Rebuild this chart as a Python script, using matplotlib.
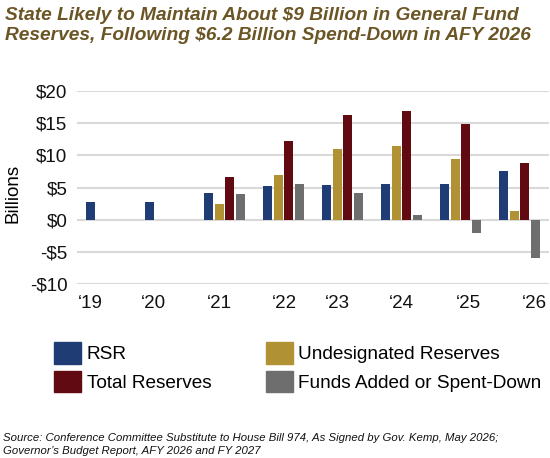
import numpy as np
import matplotlib
matplotlib.use("Agg")
import matplotlib.pyplot as plt
from matplotlib.patches import Patch

plt.rcParams['font.family'] = ['Liberation Sans', 'DejaVu Sans']

# data (billions of dollars)
years = ["\u201819", "\u201820", "\u201821", "\u201822", "\u201823", "\u201824", "\u201825", "\u201826"]
rsr = [2.8, 2.7, 4.2, 5.3, 5.4, 5.5, 5.6, 7.5]
undesignated = [np.nan, np.nan, 2.4, 6.9, 10.9, 11.5, 9.4, 1.4]
total_reserves = [np.nan, np.nan, 6.6, 12.2, 16.3, 16.9, 14.9, 8.8]
funds_added = [np.nan, -0.1, 4.0, 5.6, 4.1, 0.7, -2.0, -6.0]

series = [
    ("RSR", rsr, "#1F3C74"),
    ("Undesignated Reserves", undesignated, "#B09234"),
    ("Total Reserves", total_reserves, "#610A12"),
    ("Funds Added or Spent-Down", funds_added, "#6E6E6E"),
]

# label positions drift a little from the group centres in the original
label_pos = [-0.28, 0.80, 1.91, 3.02, 3.91, 5.0, 6.14, 7.25]

title_color = "#6B5524"

fig = plt.figure(figsize=(5.5, 4.58), dpi=100)
ax = fig.add_axes([77 / 550, 1 - 284.3 / 458, 472 / 550, 193.6 / 458])

x = np.arange(len(years))
step = 0.18
width = 0.148
for i, (name, vals, color) in enumerate(series):
    ax.bar(x + (i - 1.5) * step, vals, width, color=color, label=name, zorder=3)

ax.set_xlim(-0.5, len(years) - 0.5)
ax.set_ylim(-10, 20)
ax.set_yticks(range(-10, 21, 5))
ax.set_yticklabels([f"${v}" if v >= 0 else f"-${-v}" for v in range(-10, 21, 5)])
ax.set_xticks(label_pos)
ax.set_xticklabels(years)
ax.tick_params(axis='both', length=0, labelsize=13.5, colors='#111111')
ax.tick_params(axis='y', pad=7)
ax.tick_params(axis='x', pad=8)
ax.grid(axis='y', color='#D9D9D9', linewidth=1.5, zorder=0)
for s in ax.spines.values():
    s.set_visible(False)
ax.set_ylabel("Billions", fontsize=13.5)
ax.yaxis.set_label_coords(-0.117, 0.47)

fig.text(5 / 550, 1 - 20 / 458, "State Likely to Maintain About $9 Billion in General Fund",
         fontsize=13.75, fontweight='bold', style='italic', color=title_color, va='baseline', ha='left')
fig.text(5 / 550, 1 - 40.5 / 458, "Reserves, Following $6.2 Billion Spend-Down in AFY 2026",
         fontsize=13.75, fontweight='bold', style='italic', color=title_color, va='baseline', ha='left')

handles = [Patch(color=c) for _, _, c in series]
names = [n for n, _, _ in series]
order = [0, 2, 1, 3]
fig.legend([handles[k] for k in order], [names[k] for k in order],
           loc='upper left', bbox_to_anchor=(54 / 550, 1 - 342 / 458),
           ncol=2, frameon=False, fontsize=13.7, borderpad=0, borderaxespad=0,
           handlelength=1.42, handleheight=1.37, handletextpad=0.3,
           labelspacing=0.37, columnspacing=2.85)

fig.text(3 / 550, 1 - 440.7 / 458,
         "Source: Conference Committee Substitute to House Bill 974, As Signed by Gov. Kemp, May 2026;",
         fontsize=8.16, style='italic', color='#111111', va='baseline', ha='left')
fig.text(3 / 550, 1 - 454 / 458,
         "Governor\u2019s Budget Report, AFY 2026 and FY 2027",
         fontsize=8.16, style='italic', color='#111111', va='baseline', ha='left')

fig.savefig("out.png", dpi=100)
